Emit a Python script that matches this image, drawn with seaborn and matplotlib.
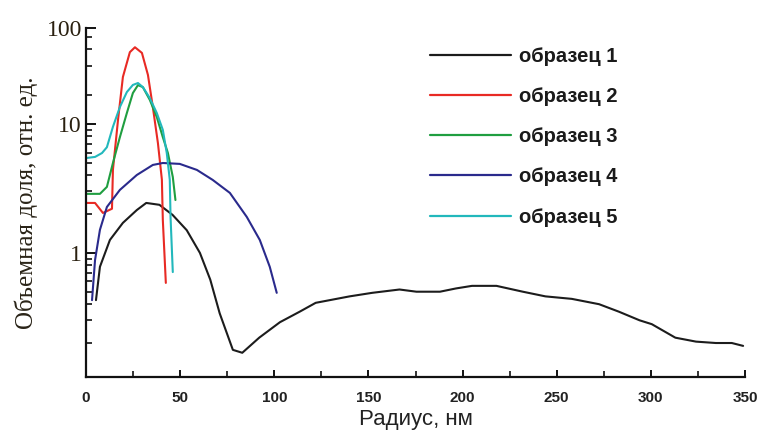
import numpy as np
import pandas as pd
import matplotlib
matplotlib.use("Agg")
import matplotlib.pyplot as plt
import seaborn as sns
from matplotlib.ticker import FixedLocator, FixedFormatter, NullFormatter
from matplotlib.lines import Line2D

# ---- data ----
r1 = [5.3, 7.4, 12.7, 19.6, 27, 32, 39, 46, 53.5, 60.5, 66, 71, 78, 83, 92, 103, 113.5,
      122, 140, 152, 166.5, 175.5, 188, 196.5, 205, 218, 232, 244, 258, 272.5, 283, 294,
      300.5, 313, 324, 334.5, 343, 349]
v1 = [0.43, 0.78, 1.26, 1.71, 2.15, 2.44, 2.36, 1.97, 1.5, 1.0, 0.62, 0.34, 0.177, 0.168,
      0.22, 0.29, 0.35, 0.41, 0.46, 0.49, 0.52, 0.50, 0.50, 0.53, 0.555, 0.555, 0.50, 0.46,
      0.44, 0.40, 0.35, 0.30, 0.28, 0.22, 0.205, 0.20, 0.20, 0.19]

r2 = [0.5, 4.8, 9.0, 13.8, 14.3, 17.0, 19.6, 23.3, 26.0, 29.7, 32.9, 35.5, 38.2, 40.3, 40.8, 42.4]
v2 = [2.44, 2.44, 2.04, 2.2, 4.4, 11.0, 30.9, 56, 63, 55, 32.4, 15, 7.1, 3.7, 1.8, 0.585]

r3 = [0.5, 7.4, 11.1, 14.3, 18.0, 21.7, 24.9, 27.6, 30.2, 33.9, 37.6, 40.8, 43.5, 46.1, 47.5]
v3 = [2.87, 2.87, 3.25, 4.98, 7.9, 13.0, 21, 25.4, 24.2, 17.8, 11.8, 7.9, 5.95, 3.88, 2.57]

r4 = [3.2, 4.8, 7.4, 11.1, 18.0, 27.0, 35.5, 40.8, 49.8, 58.9, 67.3, 76.4, 85.4, 92.3, 97.6, 101.3]
v4 = [0.43, 0.88, 1.51, 2.27, 3.08, 4.02, 4.81, 4.98, 4.9, 4.4, 3.68, 2.92, 1.9, 1.26, 0.78, 0.49]

r5 = [0.5, 4.8, 8.5, 11.1, 14.3, 18.0, 21.7, 24.9, 27.6, 30.2, 33.9, 37.6, 40.8, 42.9, 44.5, 44.9, 46.1]
v5 = [5.45, 5.55, 5.95, 6.6, 9.5, 15, 21.5, 25.5, 26.7, 24.2, 18.6, 13.0, 9.0, 5.95, 3.68, 1.9, 0.71]

labels = ["образец 1", "образец 2", "образец 3", "образец 4", "образец 5"]
colors = ["#1c1c1c", "#e82a24", "#1f9e40", "#2a2a8c", "#22b8bc"]
xticks = [0, 50, 100, 150, 200, 250, 300, 350]

series = [(r1, v1), (r2, v2), (r3, v3), (r4, v4), (r5, v5)]
frames = []
for lab, (rr, vv) in zip(labels, series):
    frames.append(pd.DataFrame({"r": rr, "v": vv, "sample": lab}))
df = pd.concat(frames, ignore_index=True)

sns.set_theme(style="ticks")
plt.rcParams["font.family"] = ["Liberation Sans", "DejaVu Sans"]

fig = plt.figure(figsize=(7.63, 4.32), dpi=100)
ax = fig.add_axes([86 / 763, 1 - 377 / 432, (745 - 86) / 763, (377 - 28) / 432])

# upper decade is drawn compressed in the original
K = 96.0 / 129.0
def fwd(y):
    l = np.log10(np.clip(y, 1e-6, None))
    return np.where(l > 1, 1 + (l - 1) * K, l)
def inv(t):
    t = np.asarray(t, dtype=float)
    l = np.where(t > 1, 1 + (t - 1) / K, t)
    return 10 ** l

ax.set_yscale("function", functions=(fwd, inv))

sns.lineplot(data=df, x="r", y="v", hue="sample", palette=dict(zip(labels, colors)),
             estimator=None, sort=False, units="sample", lw=1.5, ax=ax, legend=False)

ax.set_xlim(0, 350)
ax.set_ylim(0.109, 100)

ax.yaxis.set_major_locator(FixedLocator([1, 10, 100]))
ax.yaxis.set_major_formatter(FixedFormatter(["1", "10", "100"]))
ax.yaxis.set_minor_locator(FixedLocator([0.2, 0.3, 0.4, 0.5, 0.6, 0.7, 0.8, 0.9,
                                         2, 3, 4, 5, 6, 7, 8, 9, 20, 40, 60, 80]))
ax.yaxis.set_minor_formatter(NullFormatter())
ax.set_xticks(xticks)
ax.set_xticklabels([str(t) for t in xticks])
ax.set_xticks([25, 75, 125, 175, 225, 275, 325], minor=True)

for s in ["top", "right"]:
    ax.spines[s].set_visible(False)
for s in ["left", "bottom"]:
    ax.spines[s].set_linewidth(1.6)
    ax.spines[s].set_color("#111111")

ax.tick_params(axis="y", which="major", direction="in", length=7, width=1.4, pad=3,
               colors="#111111", labelsize=17)
ax.tick_params(axis="y", which="minor", direction="in", length=4.5, width=1.2, colors="#111111")
ax.tick_params(axis="x", which="major", direction="in", length=5, width=1.4, pad=10,
               colors="#111111", labelsize=11)
ax.tick_params(axis="x", which="minor", direction="in", length=4, width=1.2, colors="#111111")
for t in ax.get_yticklabels():
    t.set_fontfamily("Liberation Serif")
    t.set_color("#2a2010")
for t in ax.get_xticklabels():
    t.set_fontweight("bold")
    t.set_color("#222222")

ax.set_xlabel("Радиус, нм", fontsize=16, color="#222222", labelpad=3)
ax.set_ylabel("Объемная доля, отн. ед.", fontsize=18, family="Liberation Serif",
              color="#2a2418", labelpad=6)

handles = [Line2D([], [], color=c, lw=1.6) for c in colors]
leg = fig.legend(handles, labels, loc="upper left",
                 bbox_to_anchor=(430 / 763, 1 - 47 / 432), bbox_transform=fig.transFigure,
                 frameon=False, prop={"size": 14.5, "weight": "semibold"}, handlelength=4.0,
                 handletextpad=0.4, labelspacing=1.05, borderpad=0, borderaxespad=0)
for t in leg.get_texts():
    t.set_color("#1a1a1a")

fig.savefig("out.png", dpi=100)
